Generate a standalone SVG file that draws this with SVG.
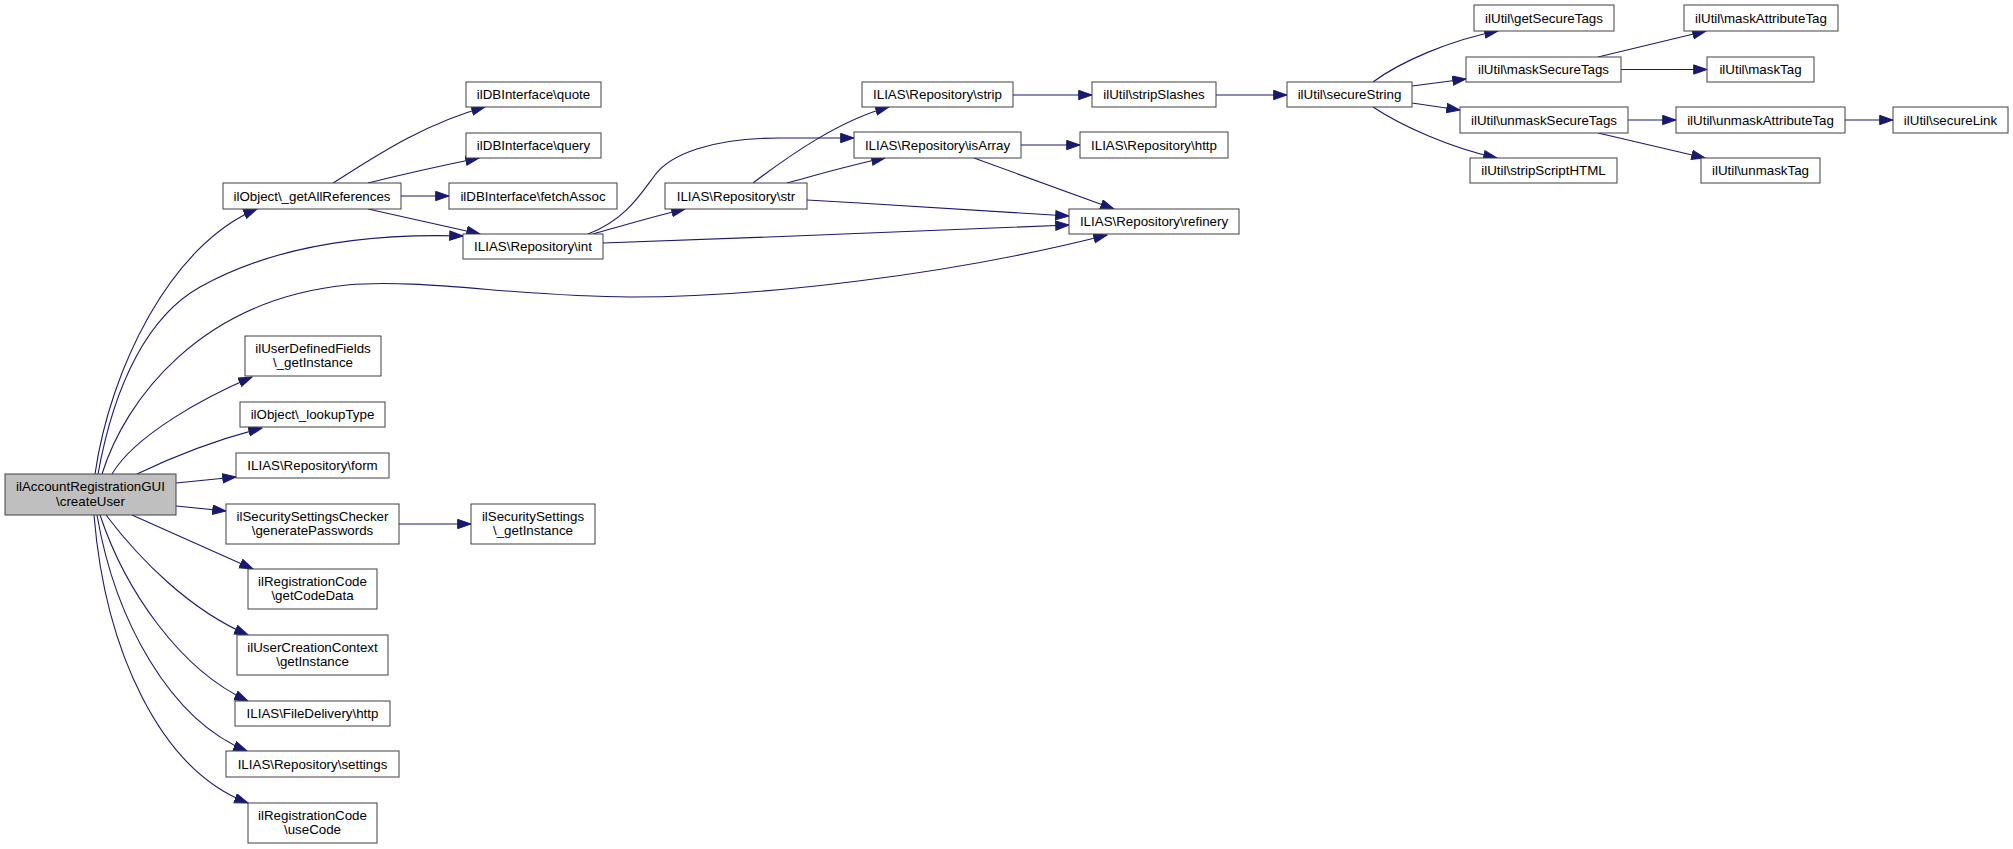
<svg xmlns="http://www.w3.org/2000/svg" width="2013" height="849" viewBox="0 0 2013 849">
<style>
.n rect{fill:#ffffff;stroke:#404040;stroke-width:1}
.n.main rect{fill:#bfbfbf}
.n text{font-family:"Liberation Sans",Arial,Helvetica,sans-serif;font-size:13.33px;fill:#000;text-anchor:middle}
.e path{fill:none;stroke:#191970;stroke-width:1.1;marker-end:url(#ah)}
</style>
<defs>
<marker id="ah" markerUnits="userSpaceOnUse" markerWidth="15" markerHeight="11" viewBox="-0.5 -0.5 15 11" refX="13.3" refY="4.65" orient="auto">
<path d="M0,0 L13.3,4.65 L0,9.3 z" fill="#191970" stroke="#191970" stroke-width="1"/>
</marker>
</defs>
<rect width="2013" height="849" fill="#ffffff"/>
<g id="edges" class="e">
<path d="M95,474 C110,370 170,245 257,209"/>
<path d="M98,474 C115,380 150,315 200,287 C250,259 330,232 463,236"/>
<path d="M102,474 C125,400 200,300 347,285 C420,278 520,297 630,297 C760,297 950,275 1107,235"/>
<path d="M112,474 C135,435 205,397 252,377"/>
<path d="M137,474 C170,458 215,440 262,428"/>
<path d="M176,483 L236,477"/>
<path d="M176,506 L226,511"/>
<path d="M132,515 C170,532 215,552 253,569"/>
<path d="M106,515 C140,560 190,610 248,635"/>
<path d="M100,515 C125,590 180,670 248,701"/>
<path d="M97,515 C115,620 170,720 247,751"/>
<path d="M94,515 C105,650 160,770 248,803"/>
<path d="M333,183 C370,160 420,125 485,107"/>
<path d="M368,183 C400,175 440,166 479,158"/>
<path d="M401,196 L449,196"/>
<path d="M368,209 C400,216 440,225 480,234"/>
<path d="M399,524 L471,524"/>
<path d="M588,234 C625,220 640,195 655,175 C670,155 710,138 780,138 L854,138"/>
<path d="M593,234 C625,225 655,216 685,209"/>
<path d="M603,243 C750,238 950,230 1069,225"/>
<path d="M753,183 C790,155 840,120 889,107"/>
<path d="M787,183 C820,174 850,165 885,158"/>
<path d="M807,200 C900,205 1000,212 1069,216"/>
<path d="M1021,145 L1080,145"/>
<path d="M974,158 L1114,209"/>
<path d="M1013,95 L1092,95"/>
<path d="M1216,95 L1287,95"/>
<path d="M1373,82 C1400,62 1450,40 1498,31"/>
<path d="M1412,86 L1466,79"/>
<path d="M1412,103 L1460,110"/>
<path d="M1373,107 C1400,125 1450,148 1497,158"/>
<path d="M1598,57 L1706,31"/>
<path d="M1621,69.5 L1707,69.5"/>
<path d="M1628,120 L1676,120"/>
<path d="M1598,133 L1705,158"/>
<path d="M1845,120 L1893,120"/>
</g>
<g id="node1" class="n main"><rect x="5" y="474" width="171" height="41"/><text x="90.5" y="491">ilAccountRegistrationGUI</text><text x="90.5" y="505.5">\createUser</text></g>
<g id="node2" class="n"><rect x="223" y="183" width="178" height="26"/><text x="312" y="200.5">ilObject\_getAllReferences</text></g>
<g id="node3" class="n"><rect x="466" y="82" width="135" height="25"/><text x="533.5" y="99">ilDBInterface\quote</text></g>
<g id="node4" class="n"><rect x="466" y="133" width="135" height="25"/><text x="533.5" y="150">ilDBInterface\query</text></g>
<g id="node5" class="n"><rect x="449" y="183" width="168" height="26"/><text x="533" y="200.5">ilDBInterface\fetchAssoc</text></g>
<g id="node6" class="n"><rect x="463" y="234" width="140" height="25"/><text x="533" y="251">ILIAS\Repository\int</text></g>
<g id="node7" class="n"><rect x="245" y="336" width="136" height="40"/><text x="313" y="352.5">ilUserDefinedFields</text><text x="313" y="367">\_getInstance</text></g>
<g id="node8" class="n"><rect x="240" y="402" width="145" height="25"/><text x="312.5" y="419">ilObject\_lookupType</text></g>
<g id="node9" class="n"><rect x="236" y="453" width="153" height="25"/><text x="312.5" y="470">ILIAS\Repository\form</text></g>
<g id="node10" class="n"><rect x="226" y="504" width="173" height="40"/><text x="312.5" y="520.5">ilSecuritySettingsChecker</text><text x="312.5" y="535">\generatePasswords</text></g>
<g id="node11" class="n"><rect x="248" y="569" width="129" height="40"/><text x="312.5" y="585.5">ilRegistrationCode</text><text x="312.5" y="600">\getCodeData</text></g>
<g id="node12" class="n"><rect x="237" y="635" width="151" height="40"/><text x="312.5" y="651.5">ilUserCreationContext</text><text x="312.5" y="666">\getInstance</text></g>
<g id="node13" class="n"><rect x="235" y="701" width="155" height="25"/><text x="312.5" y="718">ILIAS\FileDelivery\http</text></g>
<g id="node14" class="n"><rect x="226" y="751" width="173" height="26"/><text x="312.5" y="768.5">ILIAS\Repository\settings</text></g>
<g id="node15" class="n"><rect x="248" y="803" width="129" height="40"/><text x="312.5" y="819.5">ilRegistrationCode</text><text x="312.5" y="834">\useCode</text></g>
<g id="node16" class="n"><rect x="471" y="504" width="124" height="40"/><text x="533" y="520.5">ilSecuritySettings</text><text x="533" y="535">\_getInstance</text></g>
<g id="node17" class="n"><rect x="665" y="183" width="142" height="26"/><text x="736" y="200.5">ILIAS\Repository\str</text></g>
<g id="node18" class="n"><rect x="862" y="82" width="151" height="25"/><text x="937.5" y="99">ILIAS\Repository\strip</text></g>
<g id="node19" class="n"><rect x="854" y="132" width="167" height="26"/><text x="937.5" y="149.5">ILIAS\Repository\isArray</text></g>
<g id="node20" class="n"><rect x="1080" y="132" width="148" height="26"/><text x="1154" y="149.5">ILIAS\Repository\http</text></g>
<g id="node21" class="n"><rect x="1069" y="209" width="170" height="25"/><text x="1154" y="226">ILIAS\Repository\refinery</text></g>
<g id="node22" class="n"><rect x="1092" y="82" width="124" height="25"/><text x="1154" y="99">ilUtil\stripSlashes</text></g>
<g id="node23" class="n"><rect x="1287" y="82" width="125" height="25"/><text x="1349.5" y="99">ilUtil\secureString</text></g>
<g id="node24" class="n"><rect x="1474" y="5" width="140" height="26"/><text x="1544" y="22.5">ilUtil\getSecureTags</text></g>
<g id="node25" class="n"><rect x="1466" y="57" width="155" height="25"/><text x="1543.5" y="74">ilUtil\maskSecureTags</text></g>
<g id="node26" class="n"><rect x="1460" y="107" width="168" height="26"/><text x="1544" y="124.5">ilUtil\unmaskSecureTags</text></g>
<g id="node27" class="n"><rect x="1470" y="158" width="147" height="25"/><text x="1543.5" y="175">ilUtil\stripScriptHTML</text></g>
<g id="node28" class="n"><rect x="1684" y="5" width="154" height="26"/><text x="1761" y="22.5">ilUtil\maskAttributeTag</text></g>
<g id="node29" class="n"><rect x="1707" y="57" width="107" height="25"/><text x="1760.5" y="74">ilUtil\maskTag</text></g>
<g id="node30" class="n"><rect x="1676" y="107" width="169" height="26"/><text x="1760.5" y="124.5">ilUtil\unmaskAttributeTag</text></g>
<g id="node31" class="n"><rect x="1701" y="158" width="119" height="25"/><text x="1760.5" y="175">ilUtil\unmaskTag</text></g>
<g id="node32" class="n"><rect x="1893" y="107" width="115" height="26"/><text x="1950.5" y="124.5">ilUtil\secureLink</text></g>
</svg>
